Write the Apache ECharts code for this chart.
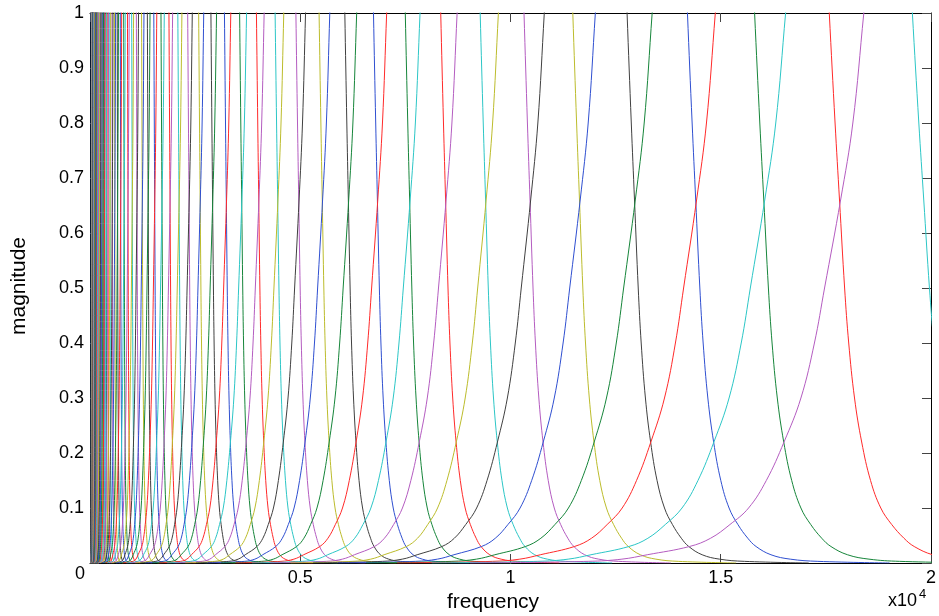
<!DOCTYPE html>
<html><head><meta charset="utf-8">
<script src="https://cdn.jsdelivr.net/npm/echarts@6/dist/echarts.min.js"></script>
<style>html,body{margin:0;padding:0;background:#fff}#c{width:939px;height:616px}</style>
</head><body><div id="c"></div>
<script>
// Filter centre frequencies (Hz) (lowest first)
const centers = [33.7, 37.5, 41.7, 46.4, 51.6, 57.4, 63.9, 71.0, 79.0, 87.9, 97.7, 108.8, 120.9, 134.5, 149.6, 166.5, 185.2, 206.0, 229.0, 254.8, 283.5, 315.3, 350.7, 390.1, 434.0, 482.8, 537.0, 597.3, 664.5, 739.1, 822.2, 914.6, 1017.4, 1131.7, 1258.9, 1400.4, 1557.8, 1732.9, 1927.6, 2144, 2385, 2654, 2951, 3284, 3653, 4063, 4519, 5028, 5593, 6222, 6920, 7698, 8564, 9526, 10597, 11788, 13113, 14587, 16226, 18050, 20079];
// Response profile: offset relative to centre frequency, and magnitude
const profileRel = [-0.55, -0.41, -0.37, -0.34, -0.29, -0.265, -0.242, -0.22, -0.199, -0.178, -0.158, -0.142, -0.130, -0.111, -0.0965, -0.0835, -0.064, 0.004, 0.0715, 0.0835, 0.092, 0.0985, 0.106, 0.112, 0.1205, 0.131, 0.144, 0.159, 0.175, 0.193, 0.208, 0.235, 0.27, 0.32, 0.45];
const profileMag = [0, 0.003, 0.007, 0.015, 0.03, 0.045, 0.07, 0.1, 0.15, 0.22, 0.3, 0.4, 0.5, 0.66, 0.8, 1.0, 1.3, 2.2, 1.3, 1.0, 0.8, 0.66, 0.5, 0.4, 0.3, 0.22, 0.15, 0.1, 0.07, 0.045, 0.03, 0.015, 0.007, 0.003, 0];
const lineColors = ['#2f4fd0', '#16853a', '#ff2a2a', '#2cc6c6', '#b45cc0', '#bcbc2c', '#404040'];
const xTickLabels = ['', '0.5', '1', '1.5', '2'];   // the shared origin "0" is drawn once below

const series = centers.map((fc, i) => ({
  type: 'line',
  data: profileRel.map((r, k) => [fc * (1 + r), profileMag[k]]),
  showSymbol: false,
  smooth: 0.4,
  clip: true,
  lineStyle: { width: 1, color: lineColors[i % 7] },
  silent: true
}));

const chart = echarts.init(document.getElementById('c'), null, { renderer: 'canvas' });
const tickStyle = { lineStyle: { color: '#444', width: 1 } };
chart.setOption({
  animation: false,
  backgroundColor: '#fff',
  grid: { left: 90, right: 2, top: 13, bottom: 53 },
  xAxis: [
    { type: 'value', min: 0, max: 20000, interval: 5000, position: 'bottom',
      axisLine: { show: true, onZero: false, lineStyle: { color: '#000', width: 1 } },
      axisTick: { show: true, inside: true, length: 9, ...tickStyle },
      axisLabel: { margin: 6, color: '#000', fontFamily: 'Liberation Sans', fontSize: 18,
        formatter: v => xTickLabels[Math.round(v / 5000)] },
      splitLine: { show: false } },
    { type: 'value', min: 0, max: 20000, interval: 5000, position: 'top',
      axisLine: { show: true, onZero: false, lineStyle: { color: '#000', width: 1 } },
      axisTick: { show: true, inside: true, length: 9, ...tickStyle },
      axisLabel: { show: false }, splitLine: { show: false } }
  ],
  yAxis: [
    { type: 'value', min: 0, max: 1, interval: 0.1, position: 'left',
      axisLine: { show: true, onZero: false, lineStyle: { color: '#000', width: 1 } },
      axisTick: { show: true, inside: true, length: 9, ...tickStyle },
      axisLabel: { margin: 6, color: '#000', fontFamily: 'Liberation Sans', fontSize: 18,
        formatter: v => (v === 0 ? '' : String(Math.round(v * 10) / 10)) },
      splitLine: { show: false } },
    { type: 'value', min: 0, max: 1, interval: 0.1, position: 'right',
      axisLine: { show: true, onZero: false, lineStyle: { color: '#000', width: 1 } },
      axisTick: { show: true, inside: true, length: 9, ...tickStyle },
      axisLabel: { show: false }, splitLine: { show: false } }
  ],
  graphic: [
    { type: 'text', x: 80, y: 574, style: { text: '0', font: '18px "Liberation Sans"', fill: '#000', textAlign: 'center', textVerticalAlign: 'middle', align: 'center', verticalAlign: 'middle' } },
    { type: 'text', x: 493, y: 602, style: { text: 'frequency', font: '21px "Liberation Sans"', fill: '#000', textAlign: 'center', textVerticalAlign: 'middle', align: 'center', verticalAlign: 'middle' } },
    { type: 'text', x: 19, y: 286, rotation: Math.PI / 2, style: { text: 'magnitude', font: '21px "Liberation Sans"', fill: '#000', textAlign: 'center', textVerticalAlign: 'middle', align: 'center', verticalAlign: 'middle' } },
    { type: 'text', x: 888, y: 601, style: { text: 'x10', font: '18px "Liberation Sans"', fill: '#000', textAlign: 'left', textVerticalAlign: 'middle', align: 'left', verticalAlign: 'middle' } },
    { type: 'text', x: 919, y: 594, style: { text: '4', font: '13px "Liberation Sans"', fill: '#000', textAlign: 'left', textVerticalAlign: 'middle', align: 'left', verticalAlign: 'middle' } }
  ],
  series: series
});
</script>
</body></html>
